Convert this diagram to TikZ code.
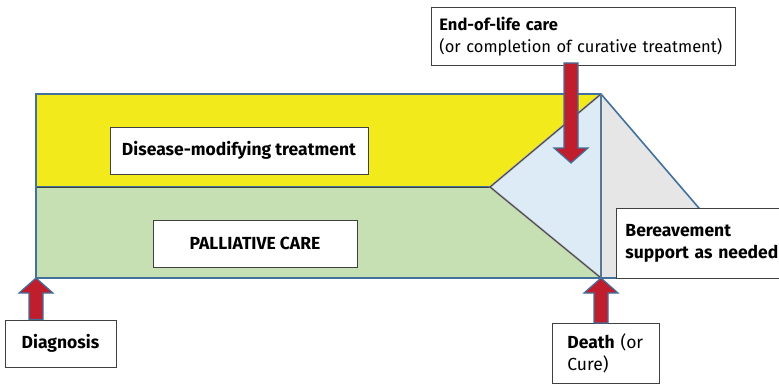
\documentclass[tikz,border=0pt]{standalone}
\usepackage{fontspec}
\setmainfont{Fira Sans}
\usetikzlibrary{calc}

\definecolor{bandyellow}{RGB}{242,234,26}
\definecolor{bandgreen}{RGB}{198,224,180}
\definecolor{bandblue}{RGB}{221,235,247}
\definecolor{bandgray}{RGB}{230,230,230}
\definecolor{edgeblue}{RGB}{65,113,156}
\definecolor{arrowred}{RGB}{192,30,45}

\tikzset{
  textbox/.style={draw=black!75, fill=white, line width=0.9pt, inner sep=0pt,
    font=\fontsize{17.5}{21.5}\selectfont},
  leftbox/.style={textbox, align=left, inner xsep=9pt},
  outline/.style={draw=edgeblue, line width=1.6pt},
  seam/.style={draw=black!75, line width=0.9pt},
  fatarrow/.style={fill=arrowred, draw=edgeblue, line width=1.2pt, line join=miter}
}

% block arrow from #1 to its tip #2
\newcommand{\fatarrow}[2]{%
  \path ($(#2)!15pt!(#1)$) coordinate (neck);
  \draw[fatarrow] ($(#1)!7pt!90:(#2)$) -- ($(neck)!7pt!90:(#2)$) -- ($(neck)!17pt!90:(#2)$)
    -- (#2) -- ($(neck)!17pt!-90:(#2)$) -- ($(neck)!7pt!-90:(#2)$) -- ($(#1)!7pt!-90:(#2)$) -- cycle;}

\begin{document}
\begin{tikzpicture}[x=1pt,y=-1pt]
\clip (0,0) rectangle (779,383);

\coordinate (TL) at (36,94);
\coordinate (ML) at (36,187);
\coordinate (BL) at (36,278);
\coordinate (MJ) at (490,187);
\coordinate (apex) at (601,94);
\coordinate (foot) at (601,278);
\coordinate (grayend) at (759,278);
\coordinate (eoltip) at (571,163);

% bands
\fill[bandyellow] (TL) -- (apex) -- (MJ) -- (ML) -- cycle;
\fill[bandgreen] (ML) -- (MJ) -- (foot) -- (BL) -- cycle;
\fill[bandblue] (MJ) -- (apex) -- (foot) -- cycle;
\fill[bandgray] (apex) -- (grayend) -- (foot) -- cycle;

\draw[outline] (ML) -- (MJ);
\draw[seam] (ML) -- (MJ);
\draw[black!30, line width=2.2pt] (MJ) -- (apex) (MJ) -- (foot);
\draw[seam] (MJ) -- (apex) (MJ) -- (foot);
\draw[outline] (BL) -- (TL) -- (apex) -- (grayend) -- (BL);
\draw[edgeblue!60!gray, line width=1.6pt] (apex) -- (foot);

% labels
\node[textbox, minimum width=258, minimum height=47] (dmt) at (239,150.5) {\textbf{Disease-modifying treatment}};
\node[textbox, minimum width=204, minimum height=47] (pal) at (255,243.5) {\textbf{PALLIATIVE CARE}};
\node[textbox, minimum width=111, minimum height=47] (diag) at (60.5,343.5) {\textbf{Diagnosis}};
\node[leftbox, inner xsep=8pt, text width=288, minimum height=58, anchor=north west,
  font=\fontsize{16.5}{22}\selectfont] (eol) at (431,7)
  {\textbf{End-of-life care}\\(or completion of curative treatment)};
\node[leftbox, inner xsep=15pt, text width=77, minimum height=60, anchor=north west] (death) at (552,323)
  {\textbf{Death} (or\\Cure)};
\node[leftbox, text width=160, minimum height=70, anchor=north west] (bereave) at (616,208)
  {\textbf{Bereavement}\\\textbf{support as needed}};

\coordinate (eoltop) at ([yshift=3]eol.south -| eoltip);
\coordinate (diagtop) at (diag.north -| BL);
\coordinate (deathtop) at (death.north -| foot);

\fatarrow{eoltop}{eoltip}
\fatarrow{diagtop}{BL}
\fatarrow{deathtop}{foot}
\end{tikzpicture}
\end{document}
